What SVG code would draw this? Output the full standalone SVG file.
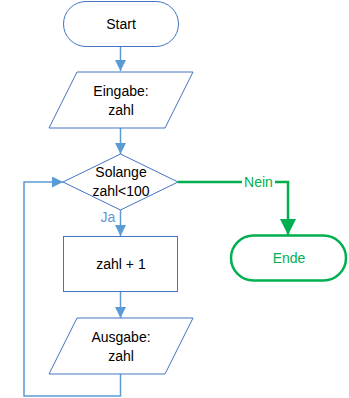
<svg xmlns="http://www.w3.org/2000/svg" width="349" height="398" viewBox="0 0 349 398">
  <style>
    .shape { fill: #ffffff; stroke: #4472c4; stroke-width: 1; }
    .end { fill: #ffffff; stroke: #00b050; stroke-width: 2.5; }
    .flow { fill: none; stroke: #5b9bd5; stroke-width: 1.5; }
    .no { fill: none; stroke: #00b050; stroke-width: 2.5; }
    text { font-family: "Liberation Sans", Arial, sans-serif; font-size: 14px; text-anchor: middle; fill: #000000; }
    .lbl-yes { fill: #5b9bd5; }
    .lbl-no { fill: #00b050; }
  </style>
  <defs>
    <marker id="arr" viewBox="0 0 10 10" refX="10" refY="5" markerWidth="11" markerHeight="11" markerUnits="userSpaceOnUse" orient="auto">
      <path d="M0,0 L10,5 L0,10 Z" fill="#5b9bd5"/>
    </marker>
    <marker id="arrG" viewBox="0 0 10 10" refX="10" refY="5" markerWidth="16" markerHeight="16" markerUnits="userSpaceOnUse" orient="auto">
      <path d="M0,0 L10,5 L0,10 Z" fill="#00b050"/>
    </marker>
  </defs>

  <g id="connectors">
    <path class="flow" d="M120.5,47 V71" marker-end="url(#arr)"/>
    <path class="flow" d="M120.5,128 V154" marker-end="url(#arr)"/>
    <path class="flow" d="M120.5,210 V236" marker-end="url(#arr)"/>
    <path class="flow" d="M120.5,292 V318" marker-end="url(#arr)"/>
    <path class="flow" d="M120.5,374 V396 H24 V182 H63" marker-end="url(#arr)"/>
    <path class="no" d="M178,182 H288 V235" marker-end="url(#arrG)"/>
    <rect x="242" y="175" width="33" height="14" fill="#ffffff"/>
    <text class="lbl-no" x="258.5" y="187">Nein</text>
    <text class="lbl-yes" x="108" y="222">Ja</text>
  </g>

  <g id="start">
    <rect class="shape" x="63.5" y="1.5" width="115" height="45" rx="22.5" ry="22.5"/>
    <text x="121" y="29">Start</text>
  </g>

  <g id="input">
    <polygon class="shape" points="77,72 193,72 165,128 49,128"/>
    <text x="121" y="96">Eingabe:</text>
    <text x="121" y="115">zahl</text>
  </g>

  <g id="loop">
    <polygon class="shape" points="120.5,154 178,182 120.5,210 63,182"/>
    <text x="121" y="177">Solange</text>
    <text x="121" y="196">zahl&lt;100</text>
  </g>

  <g id="increment">
    <rect class="shape" x="63.5" y="236.5" width="114" height="55"/>
    <text x="121" y="269">zahl + 1</text>
  </g>

  <g id="output">
    <polygon class="shape" points="77,318 193,318 165,374 49,374"/>
    <text x="121" y="342">Ausgabe:</text>
    <text x="121" y="361">zahl</text>
  </g>

  <g id="end">
    <rect class="end" x="231" y="235.5" width="115" height="45" rx="22.5" ry="22.5"/>
    <text class="lbl-no" x="289" y="263">Ende</text>
  </g>
</svg>
